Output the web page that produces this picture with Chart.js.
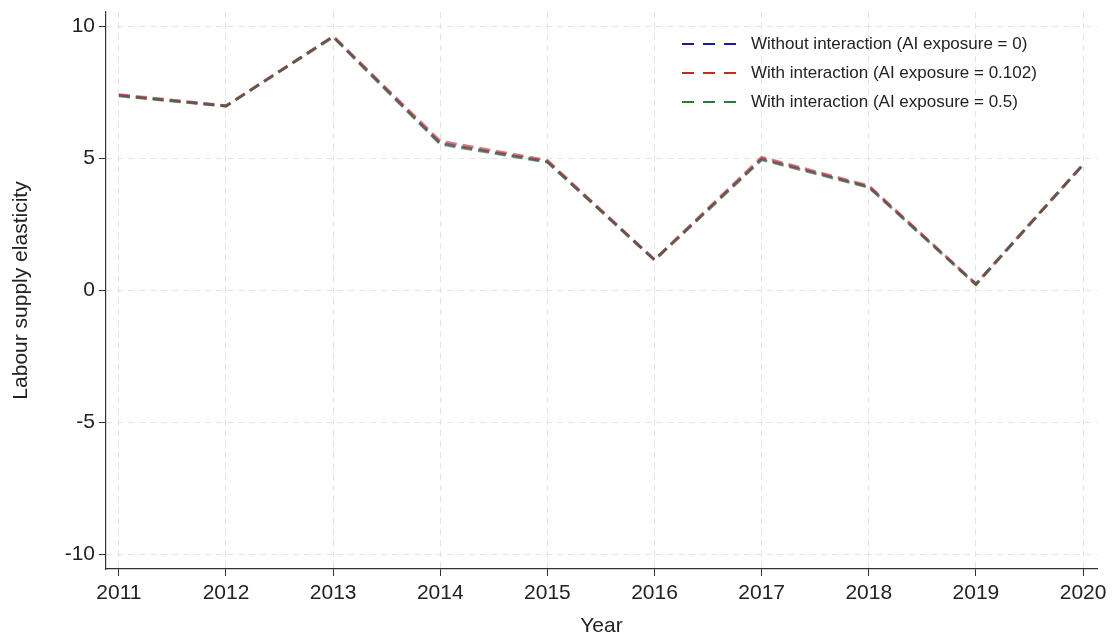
<!DOCTYPE html>
<html>
<head>
<meta charset="utf-8">
<script src="https://cdn.jsdelivr.net/npm/chart.js@4.4.1/dist/chart.umd.min.js"></script>
<style>
  html, body { margin: 0; padding: 0; background: #ffffff; }
  #wrap { width: 1115px; height: 639px; position: relative; }
</style>
</head>
<body>
<div id="wrap"><canvas id="c" width="1115" height="639"></canvas></div>
<script>
// Years on the horizontal axis
const years = [2011, 2012, 2013, 2014, 2015, 2016, 2017, 2018, 2019, 2020];

// Estimated labour supply elasticity by year
const withoutInteraction = [7.39, 6.99, 9.62, 5.58, 4.88, 1.16, 4.99, 3.93, 0.24, 4.77];
const withInteraction0102 = [7.42, 7.00, 9.63, 5.66, 4.93, 1.17, 5.05, 3.97, 0.25, 4.78];
const withInteraction05   = [7.37, 6.98, 9.60, 5.54, 4.86, 1.15, 4.95, 3.91, 0.22, 4.76];

const seriesLabels = [
  'Without interaction (AI exposure = 0)',
  'With interaction (AI exposure = 0.102)',
  'With interaction (AI exposure = 0.5)'
];

const yTicks = [-10, -5, 0, 5, 10];

const seriesColors = ['#1c1c96', '#c42a2a', '#2a7d34'];
const seriesStroke = ['rgba(28,28,150,0.6)', 'rgba(196,42,42,0.62)', 'rgba(60,95,50,0.6)'];

const font = 'Liberation Sans, Arial, Helvetica, sans-serif';
const dash = [11, 6];

function toPoints(vals) {
  return years.map((y, i) => ({ x: y, y: vals[i] }));
}

// Legend drawn inside the plot, upper right
const insideLegend = {
  id: 'insideLegend',
  afterDraw(chart) {
    const ctx = chart.ctx;
    ctx.save();
    const rows = [44, 73, 102];
    seriesLabels.forEach((label, i) => {
      const y = rows[i];
      ctx.strokeStyle = seriesColors[i];
      ctx.lineWidth = 1.8;
      ctx.setLineDash([12, 9]);
      ctx.beginPath();
      ctx.moveTo(682, y);
      ctx.lineTo(736, y);
      ctx.stroke();
      ctx.setLineDash([]);
      ctx.fillStyle = '#222';
      ctx.font = '17px ' + font;
      ctx.textBaseline = 'middle';
      ctx.textAlign = 'left';
      ctx.fillText(label, 751, y);
    });
    ctx.restore();
  }
};

const datasets = [withoutInteraction, withInteraction0102, withInteraction05].map((vals, i) => ({
  label: seriesLabels[i],
  data: toPoints(vals),
  borderColor: seriesStroke[i],
  backgroundColor: seriesColors[i],
  borderWidth: 2.8,
  borderDash: dash,
  pointRadius: 0,
  tension: 0,
  fill: false,
  order: 3 - i
}));

new Chart(document.getElementById('c'), {
  type: 'line',
  data: { datasets },
  options: {
    responsive: false,
    animation: false,
    events: [],
    layout: { padding: { top: 12, right: 18, left: 0, bottom: 0 } },
    plugins: {
      legend: { display: false },
      tooltip: { enabled: false }
    },
    scales: {
      x: {
        type: 'linear',
        min: 2010.88,
        max: 2020.13,
        afterBuildTicks(scale) {
          scale.ticks = years.map(v => ({ value: v }));
        },
        afterFit(scale) {
          scale.height = 70;
          scale.paddingLeft = 0;
          scale.paddingRight = 0;
        },
        grid: {
          color: '#e4e4e4',
          lineWidth: 1,
          tickLength: 7,
          tickColor: '#333',
          tickWidth: 1
        },
        border: { display: true, color: '#333', width: 1.2, dash: [6, 5] },
        ticks: {
          color: '#222',
          font: { family: font, size: 21 },
          padding: 5,
          maxRotation: 0,
          callback: v => String(v)
        },
        title: {
          display: true,
          text: 'Year',
          color: '#222',
          font: { family: font, size: 21 },
          padding: { top: 0, bottom: 0 }
        }
      },
      y: {
        type: 'linear',
        min: -10.55,
        max: 10.55,
        afterBuildTicks(scale) {
          scale.ticks = yTicks.map(v => ({ value: v }));
        },
        afterFit(scale) {
          scale.width = 106;
          scale.paddingTop = 0;
          scale.paddingBottom = 0;
        },
        grid: {
          color: '#e4e4e4',
          lineWidth: 1,
          tickLength: 7,
          tickColor: '#333',
          tickWidth: 1
        },
        border: { display: true, color: '#333', width: 1.2, dash: [6, 5] },
        ticks: {
          color: '#222',
          font: { family: font, size: 21 },
          padding: 4,
          callback: v => String(v)
        },
        title: {
          display: true,
          text: 'Labour supply elasticity',
          color: '#222',
          font: { family: font, size: 21 },
          padding: { top: 9, bottom: 0 }
        }
      }
    }
  },
  plugins: [insideLegend]
});
</script>
</body>
</html>
